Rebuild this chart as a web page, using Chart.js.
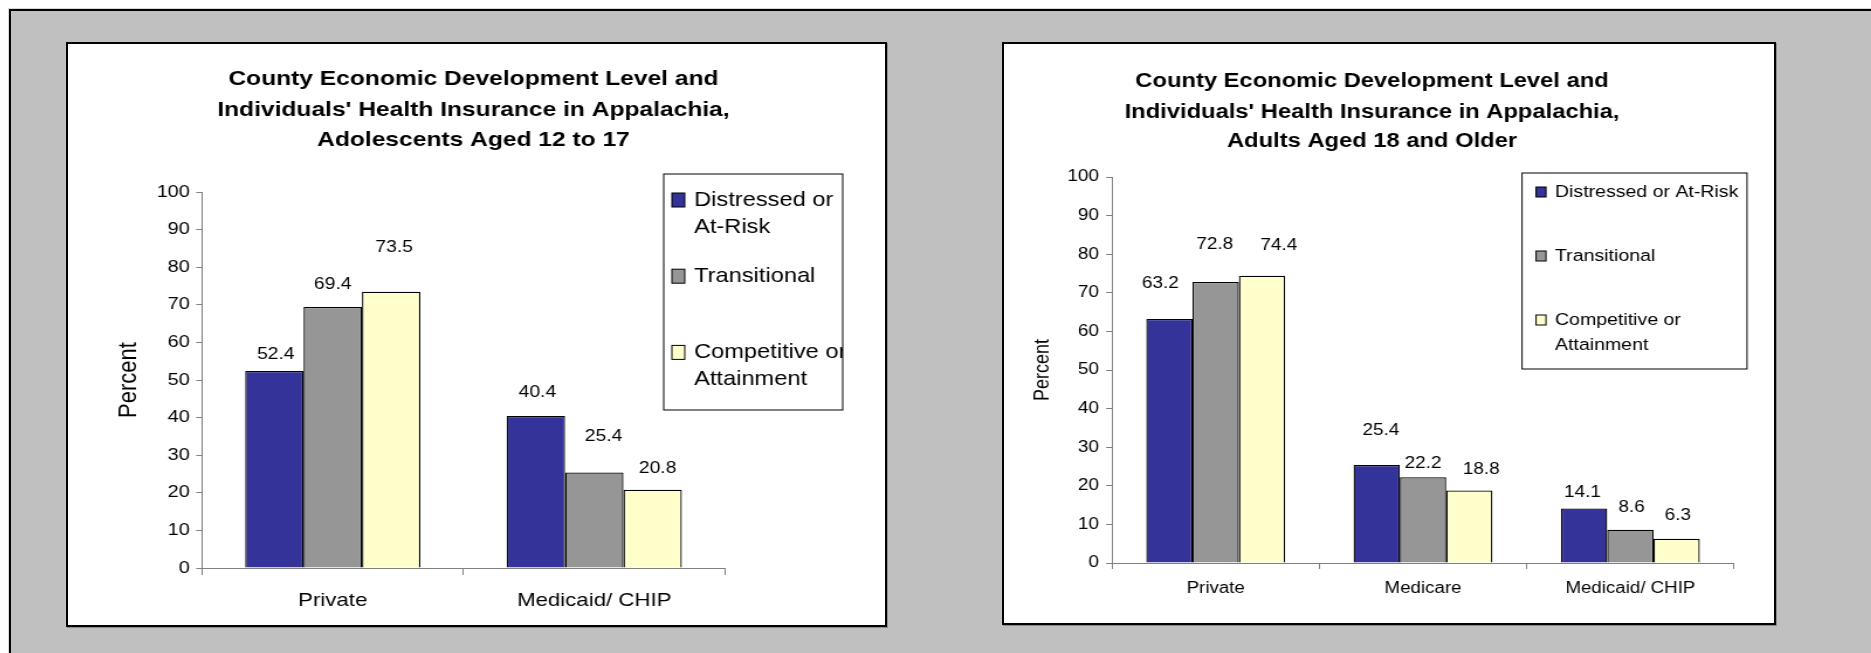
<!DOCTYPE html>
<html>
<head>
<meta charset="utf-8">
<script src="https://cdn.jsdelivr.net/npm/chart.js@4.4.0/dist/chart.umd.min.js"></script>
<style>
  body { margin:0; width:1871px; height:653px; overflow:hidden; background:#fff; position:relative; }
  #frame { position:absolute; left:9px; top:9px; width:1900px; height:700px; background:#c0c0c0;
           border-top:2px solid #000; border-left:2px solid #000; box-shadow:-1px -1px 0 #d8d8d8; }
  .panel { position:absolute; box-sizing:border-box; border:2px solid #000; background:#fff; box-shadow:1px 1px 0 #8a8a8a; }
  #p1 { left:66px; top:42px; width:821px; height:585px; }
  #p2 { left:1002px; top:42px; width:774px; height:583px; }
  /* the source picture is stretched sideways, so the charts are too */
  canvas { position:absolute; transform-origin:0 0; transform:scaleX(1.17); }
  #teens { left:67px; top:43px; }
  #adults { left:1003px; top:43px; }
</style>
</head>
<body>
<div id="frame"></div>
<div class="panel" id="p1"></div>
<div class="panel" id="p2"></div>
<canvas id="teens" width="701" height="583"></canvas>
<canvas id="adults" width="661" height="581"></canvas>
<script>
var seriesNames = ['Distressed or At-Risk', 'Transitional', 'Competitive or Attainment'];
var seriesColors = ['#333399', '#969696', '#ffffcc'];

// adolescents 12-17
var teenTitle = ['County Economic Development Level and', "Individuals' Health Insurance in Appalachia,", 'Adolescents Aged 12 to 17'];
var teenCategories = ['Private', 'Medicaid/ CHIP'];
var teenDistressed = [52.4, 40.4];
var teenTransitional = [69.4, 25.4];
var teenCompetitive = [73.5, 20.8];
var teenLegend = [['Distressed or', 'At-Risk'], ['Transitional'], ['Competitive or', 'Attainment']];

// adults 18+
var adultTitle = ['County Economic Development Level and', "Individuals' Health Insurance in Appalachia,", 'Adults Aged 18 and Older'];
var adultCategories = ['Private', 'Medicare', 'Medicaid/ CHIP'];
var adultDistressed = [63.2, 25.4, 14.1];
var adultTransitional = [72.8, 22.2, 8.6];
var adultCompetitive = [74.4, 18.8, 6.3];
var adultLegend = [['Distressed or At-Risk'], ['Transitional'], ['Competitive or', 'Attainment']];

var yAxisLabel = 'Percent';
var fam = "'Liberation Sans', Arial, sans-serif";
Chart.defaults.font.family = fam;
Chart.defaults.color = '#000';

// look of each panel (canvas units, before the sideways stretch)
var teenLook = {
  pad: {left: 20, right: 138.6, top: 149, bottom: 8},
  yWidth: 95.4, xHeight: 50,
  tickSize: 17, tickPad: 5.4, catSize: 19, catPad: 14.3, xTickLen: 7,
  percentSize: 22, percentPad: 19.8,
  titleSize: 21, titleX: 347.4, titleY: [36.5, 67, 97.5],
  valueSize: 16.5,
  box: [510, 131, 153, 236], sym: [517, 11, 14],
  textX: 536, legendSize: 20.2, firstY: 157, step: 76.2, lineH: 27.5,
  lift: [[17, 24], [22.7, 36], [43.7, 21.3]],
  shift: [[1.2, 1.3], [0, 8], [2.6, 4.2]]
};
var adultLook = {
  pad: {left: 10, right: 36.2, top: 134, bottom: 16},
  yWidth: 83.2, xHeight: 45,
  tickSize: 16.2, tickPad: 6.2, catSize: 16, catPad: 10.4, xTickLen: 6,
  percentSize: 18, percentPad: 12.8,
  titleSize: 20.3, titleX: 315.4, titleY: [38.5, 69, 98],
  valueSize: 16.2,
  box: [443.6, 130, 192.3, 196], sym: [455.6, 8.5, 10],
  textX: 471.8, legendSize: 16.7, firstY: 149, step: 64, lineH: 25,
  lift: [[35.3, 34, 16.3], [37.2, 13.3, 22.6], [30.5, 21.3, 23.3]],
  shift: [[-7.7, 3.6, -1.3], [-0.9, 0, 1], [14.4, 10.2, 1]]
};

// title, legend box and value labels
function makeDecor(title, legendLines, look) {
  return {
    id: 'decor',
    afterDatasetsDraw: function (chart) {
      var ctx = chart.ctx;
      ctx.save();
      ctx.fillStyle = '#000';
      ctx.font = look.valueSize + 'px ' + fam;
      ctx.textAlign = 'center';
      ctx.textBaseline = 'middle';
      chart.data.datasets.forEach(function (ds, i) {
        chart.getDatasetMeta(i).data.forEach(function (bar, j) {
          ctx.fillText(String(ds.data[j]), bar.x + look.shift[i][j], bar.y - look.lift[i][j]);
        });
      });
      ctx.restore();
    },
    afterDraw: function (chart) {
      var ctx = chart.ctx;
      ctx.save();
      ctx.fillStyle = '#000';
      ctx.textAlign = 'center';
      ctx.textBaseline = 'middle';
      ctx.font = 'bold ' + look.titleSize + 'px ' + fam;
      for (var t = 0; t < title.length; t++) {
        ctx.fillText(title[t], look.titleX, look.titleY[t]);
      }

      var b = look.box;
      ctx.fillStyle = '#fff';
      ctx.fillRect(b[0], b[1], b[2], b[3]);
      ctx.save();
      ctx.beginPath();
      ctx.rect(b[0], b[1], b[2], b[3]);
      ctx.clip();
      ctx.textAlign = 'left';
      ctx.font = look.legendSize + 'px ' + fam;
      chart.data.datasets.forEach(function (ds, i) {
        var y = look.firstY + i * look.step;
        ctx.fillStyle = ds.backgroundColor;
        ctx.fillRect(look.sym[0], y - look.sym[2] / 2, look.sym[1], look.sym[2]);
        ctx.strokeStyle = '#000';
        ctx.lineWidth = 1;
        ctx.strokeRect(look.sym[0], y - look.sym[2] / 2, look.sym[1], look.sym[2]);
        ctx.fillStyle = '#000';
        for (var k = 0; k < legendLines[i].length; k++) {
          ctx.fillText(legendLines[i][k], look.textX, y + k * look.lineH);
        }
      });
      ctx.restore();
      ctx.strokeStyle = '#000';
      ctx.lineWidth = 1;
      ctx.strokeRect(b[0], b[1], b[2], b[3]);
      ctx.restore();
    }
  };
}

function drawPanel(id, categories, values, title, legendLines, look) {
  var datasets = [];
  for (var i = 0; i < values.length; i++) {
    datasets.push({
      label: seriesNames[i],
      data: values[i],
      backgroundColor: seriesColors[i],
      borderColor: '#000',
      borderWidth: 1.3,
      categoryPercentage: 0.67,
      barPercentage: 1.0
    });
  }
  return new Chart(id, {
    type: 'bar',
    data: {labels: categories, datasets: datasets},
    options: {
      responsive: false,
      animation: false,
      devicePixelRatio: 1,
      layout: {padding: look.pad},
      plugins: {legend: {display: false}, tooltip: {enabled: false}},
      scales: {
        x: {
          ticks: {font: {size: look.catSize}, padding: look.catPad, color: '#000'},
          grid: {drawOnChartArea: false, drawTicks: true, tickLength: look.xTickLen, color: '#808080', offset: true},
          border: {color: '#808080', width: 1},
          afterFit: function (s) { s.height = look.xHeight; }
        },
        y: {
          min: 0, max: 100,
          ticks: {stepSize: 10, font: {size: look.tickSize}, padding: look.tickPad, color: '#000'},
          grid: {drawOnChartArea: false, drawTicks: true, tickLength: 5, color: '#808080'},
          border: {color: '#808080', width: 1},
          title: {display: true, text: yAxisLabel, color: '#000', font: {size: look.percentSize}, padding: {top: look.percentPad, bottom: 0}},
          afterFit: function (s) { s.width = look.yWidth; }
        }
      }
    },
    plugins: [makeDecor(title, legendLines, look)]
  });
}

drawPanel('teens', teenCategories, [teenDistressed, teenTransitional, teenCompetitive], teenTitle, teenLegend, teenLook);
drawPanel('adults', adultCategories, [adultDistressed, adultTransitional, adultCompetitive], adultTitle, adultLegend, adultLook);
</script>
</body>
</html>
